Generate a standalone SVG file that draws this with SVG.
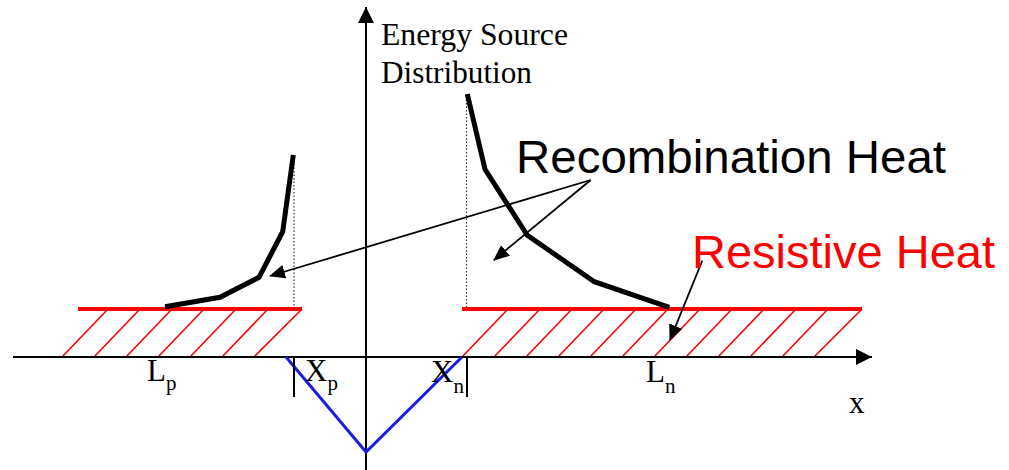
<svg xmlns="http://www.w3.org/2000/svg" width="1009" height="470" viewBox="0 0 1009 470">
<defs>
<marker id="ah" markerWidth="16" markerHeight="14" refX="15" refY="7" orient="auto" markerUnits="userSpaceOnUse"><path d="M0,0 L16,7 L0,14 Z" fill="#000"/></marker>
<marker id="axh" markerWidth="16" markerHeight="16" refX="16" refY="8" orient="auto" markerUnits="userSpaceOnUse"><path d="M0,0 L16,8 L0,16 Z" fill="#000"/></marker>
</defs>
<style>
.axis{stroke:#000;stroke-width:2;fill:none}
.tick{stroke:#000;stroke-width:2}
.dot{stroke:#333;stroke-width:1.2;stroke-dasharray:1.5,2}
.curve{stroke:#000;stroke-width:5;fill:none;stroke-linejoin:miter}
.redline{stroke:#ff0000;stroke-width:4}
.hatch{stroke:#ff0000;stroke-width:1.6}
.ptr{stroke:#000;stroke-width:1.8;fill:none;marker-end:url(#ah)}
.tnr{font-family:"Liberation Serif","Times New Roman",serif;fill:#000}
.ar{font-family:"Liberation Sans",Arial,sans-serif}
</style>
<rect width="1009" height="470" fill="#fff"/>
<g id="hatch-left">
<line class="redline" x1="78" y1="309" x2="302" y2="309"/>
<line class="hatch" x1="62" y1="357" x2="108" y2="309"/>
<line class="hatch" x1="94" y1="357" x2="140" y2="309"/>
<line class="hatch" x1="126" y1="357" x2="172" y2="309"/>
<line class="hatch" x1="158" y1="357" x2="204" y2="309"/>
<line class="hatch" x1="190" y1="357" x2="236" y2="309"/>
<line class="hatch" x1="222" y1="357" x2="268" y2="309"/>
<line class="hatch" x1="254" y1="357" x2="302" y2="309"/>
</g>
<g id="hatch-right">
<line class="redline" x1="462" y1="309" x2="862" y2="309"/>
<line class="hatch" x1="462" y1="357" x2="508" y2="309"/>
<line class="hatch" x1="494" y1="357" x2="540" y2="309"/>
<line class="hatch" x1="526" y1="357" x2="572" y2="309"/>
<line class="hatch" x1="558" y1="357" x2="604" y2="309"/>
<line class="hatch" x1="590" y1="357" x2="636" y2="309"/>
<line class="hatch" x1="622" y1="357" x2="668" y2="309"/>
<line class="hatch" x1="654" y1="357" x2="700" y2="309"/>
<line class="hatch" x1="686" y1="357" x2="732" y2="309"/>
<line class="hatch" x1="718" y1="357" x2="764" y2="309"/>
<line class="hatch" x1="750" y1="357" x2="796" y2="309"/>
<line class="hatch" x1="782" y1="357" x2="828" y2="309"/>
<line class="hatch" x1="814" y1="357" x2="862" y2="309"/>
</g>
<g id="axes">
<line class="axis" x1="13" y1="357" x2="872" y2="357" marker-end="url(#axh)"/>
<line class="axis" x1="366" y1="470" x2="366" y2="7" marker-end="url(#axh)"/>
</g>
<g id="junction">
<polyline points="286,357 366,452 462,357" fill="none" stroke="#1c1ce0" stroke-width="3"/>
<line class="tick" x1="294" y1="357" x2="294" y2="397"/>
<line class="tick" x1="467" y1="357" x2="467" y2="397"/>
<line class="dot" x1="294" y1="157" x2="294" y2="309"/>
<line class="dot" x1="466.5" y1="96" x2="466.5" y2="309"/>
</g>
<g id="curve-left">
<polyline class="curve" points="293.3,155 282.7,231.7 259,277.3 220,297.3 165,306.7"/>
</g>
<g id="curve-right">
<polyline class="curve" points="467.3,94 485,169.3 527.3,235.3 594.3,281.7 669.3,307.3"/>
</g>
<g id="connectors">
<line class="ptr" x1="590.7" y1="180" x2="270" y2="276"/>
<line class="ptr" x1="590.7" y1="180" x2="494" y2="260"/>
<line class="ptr" x1="702.3" y1="260.7" x2="670" y2="340"/>
</g>
<g id="label-energy">
<text class="tnr" x="381" y="45" font-size="31" textLength="187" lengthAdjust="spacingAndGlyphs">Energy Source</text>
<text class="tnr" x="381" y="83" font-size="31" textLength="151" lengthAdjust="spacingAndGlyphs">Distribution</text>
</g>
<g id="label-recombination">
<text class="ar" x="516" y="173" font-size="46" fill="#000" textLength="430" lengthAdjust="spacingAndGlyphs">Recombination Heat</text>
</g>
<g id="label-resistive">
<text class="ar" x="692" y="268" font-size="46" fill="#ff0000" textLength="303" lengthAdjust="spacingAndGlyphs">Resistive Heat</text>
</g>
<g id="axis-labels">
<text class="tnr" x="147" y="381" font-size="31">L<tspan font-size="21" dy="9">p</tspan></text>
<text class="tnr" x="305" y="381" font-size="31">X<tspan font-size="21" dy="9">p</tspan></text>
<text class="tnr" x="431" y="382" font-size="31">X<tspan font-size="21" dy="11">n</tspan></text>
<text class="tnr" x="646" y="382" font-size="31">L<tspan font-size="21" dy="11">n</tspan></text>
<text class="tnr" x="849" y="413" font-size="31">x</text>
</g>
</svg>
